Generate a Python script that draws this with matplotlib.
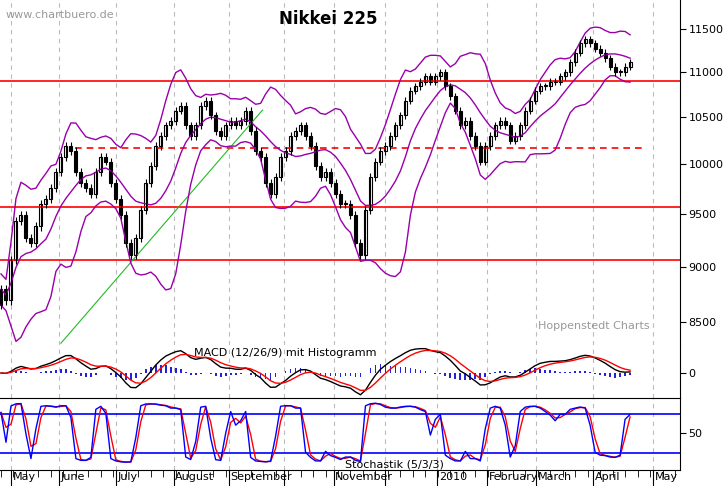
import numpy as np
import pandas as pd
import matplotlib
matplotlib.use("Agg")
import matplotlib.pyplot as plt
from matplotlib.ticker import FixedLocator, NullLocator, NullFormatter, FuncFormatter

# closes, one value per two trading days (Apr 2009 - Apr 2010)
closes = [8790, 8690, 9060, 9430, 9490, 9270, 9220, 9380, 9600, 9650, 9760, 9920, 10080, 10190,
          10140, 9920, 9810, 9760, 9700, 9920, 10080, 10030, 9810, 9650, 9490, 9220, 9110, 9270,
          9540, 9810, 9980, 10190, 10300, 10410, 10460, 10570, 10620, 10410, 10300, 10410, 10620,
          10680, 10520, 10350, 10300, 10410, 10460, 10410, 10460, 10570, 10350, 10140, 10080, 9810,
          9700, 9870, 10080, 10140, 10300, 10350, 10410, 10300, 10190, 9980, 9870, 9920, 9810, 9700,
          9600, 9600, 9490, 9220, 9110, 9540, 9870, 10030, 10140, 10190, 10300, 10410, 10520, 10680,
          10790, 10840, 10890, 10950, 10890, 10950, 11000, 10840, 10730, 10570, 10410, 10460, 10300,
          10190, 10030, 10190, 10300, 10410, 10460, 10410, 10250, 10300, 10410, 10570, 10680, 10790,
          10840, 10840, 10890, 10890, 10950, 11000, 11110, 11220, 11330, 11380, 11330, 11270, 11220,
          11160, 11060, 11000, 11000, 11060, 11110]
first_open = 8650
wick = 40

month_pos = [2, 11.6, 23, 34.6, 45.6, 56.6, 66.6, 77, 87.4, 97.4, 107.2, 118.6, 130.6]
month_labels = ["May", "June", "July", "August", "September", "", "November", "",
                "2010", "February", "March", "April", "May"]
price_ticks = [8500, 9000, 9500, 10000, 10500, 11000, 11500]
support_levels = [10900, 9570, 9060]
dashed_level = 10170
trend_x = [12, 52.4]
trend_y = [8315, 10578]

c = pd.Series(closes, dtype=float)
o = c.shift(1).fillna(first_open)
hi = np.maximum(o, c) + wick
lo = np.minimum(o, c) - wick
idx = np.arange(len(c))

# indicators
mid = c.rolling(10, min_periods=1).mean()
sd = c.rolling(10, min_periods=2).std().bfill()
upper = mid + 2 * sd
lower = mid - 2 * sd
macd = c.ewm(span=6).mean() - c.ewm(span=13).mean()
signal = macd.ewm(span=4.5).mean()
hist = macd - signal
ll = pd.Series(lo).rolling(3, min_periods=1).min()
hh = pd.Series(hi).rolling(3, min_periods=1).max()
k = (c - ll) / (hh - ll) * 100
d = k.rolling(2, min_periods=1).mean()

fig = plt.figure(figsize=(7.23, 4.86), dpi=100)
W = 680 / 723
ax = fig.add_axes([0, 1 - 345 / 486, W, 345 / 486])
ax2 = fig.add_axes([0, 1 - 398 / 486, W, 53 / 486])
ax3 = fig.add_axes([0, 1 - 470 / 486, W, 72 / 486])

xlim = (-0.2, 136)
for a in (ax, ax2, ax3):
    a.set_xlim(*xlim)
    for s in ("top", "left", "bottom"):
        a.spines[s].set_visible(False)
    a.xaxis.set_major_locator(NullLocator())
    a.yaxis.tick_right()
    a.tick_params(axis="y", length=4, labelsize=8, pad=2)
    for m in month_pos:
        a.axvline(m, color="#bbbbbb", lw=0.8, ls=(0, (4, 4)), zorder=0)

# main panel
ax.set_yscale("log")
ax.set_ylim(11500 * np.exp(-316 / 969), 11500 * np.exp(29 / 969))
ax.yaxis.set_major_locator(FixedLocator(price_ticks))
ax.yaxis.set_minor_locator(NullLocator())
ax.yaxis.set_major_formatter(FuncFormatter(lambda v, p: f"{int(v)}"))
ax.yaxis.set_minor_formatter(NullFormatter())
for lv in support_levels:
    ax.axhline(lv, color="red", lw=1.2)
ax.axhline(dashed_level, xmin=0.11, xmax=0.95, color="red", lw=1.2, ls=(0, (4, 3)))
ax.plot(trend_x, trend_y, color="#22bb22", lw=0.8, clip_on=False)
ax.plot(idx, upper, color="#9900aa", lw=1)
ax.plot(idx, mid, color="#9900aa", lw=1)
ax.plot(idx, lower, color="#9900aa", lw=1)
for i in idx:
    ax.vlines(i, lo[i], hi[i], color="black", lw=0.8)
    up = c[i] >= o[i]
    b0, b1 = min(o[i], c[i]), max(o[i], c[i])
    ax.bar(i, max(b1 - b0, 10), bottom=b0, width=0.6,
           color="white" if up else "black", edgecolor="black", lw=0.8)
ax.text(0.008, 0.948, "www.chartbuero.de", transform=ax.transAxes, color="#999999", fontsize=8)
ax.text(0.483, 0.93, "Nikkei 225", transform=ax.transAxes, fontsize=12, fontweight="bold", ha="center")
ax.text(0.955, 0.045, "Hoppenstedt Charts", transform=ax.transAxes, color="#999999",
        fontsize=8, ha="right")

# MACD panel
ax2.bar(idx, hist, width=0.35, color="#2222dd")
ax2.plot(idx, macd, color="black", lw=1)
ax2.plot(idx, signal, color="red", lw=1)
lo_m, hi_m = min(macd.min(), signal.min()), max(macd.max(), signal.max())
ax2.set_ylim(lo_m * 1.15, hi_m * 1.15)
ax2.yaxis.set_major_locator(FixedLocator([0]))
ax2.text(0.42, 0.8, "MACD (12/26/9) mit Histogramm", transform=ax2.transAxes, fontsize=8, ha="center")

# stochastic panel
ax3.spines["top"].set_visible(True)
ax3.spines["bottom"].set_visible(True)
ax3.set_ylim(-6, 104)
ax3.axhline(80, color="blue", lw=1.2)
ax3.axhline(20, color="blue", lw=1.2)
ax3.plot(idx, d, color="red", lw=1)
ax3.plot(idx, k, color="blue", lw=1)
ax3.yaxis.set_major_locator(FixedLocator([50]))
ax3.text(0.58, 0.04, "Stochastik (5/3/3)", transform=ax3.transAxes, fontsize=8, ha="center")
ax3.xaxis.set_major_locator(FixedLocator(month_pos))
ax3.xaxis.set_minor_locator(FixedLocator(np.arange(0, 136, 2.5)))
ax3.xaxis.set_major_formatter(NullFormatter())
ax3.tick_params(axis="x", which="major", length=14, direction="out")
ax3.tick_params(axis="x", which="minor", length=5, direction="out")
for m, lab in zip(month_pos, month_labels):
    ax3.text(m + 0.3, -0.03, lab, transform=ax3.get_xaxis_transform(), fontsize=8, va="top")

fig.savefig("out.png", dpi=100)
